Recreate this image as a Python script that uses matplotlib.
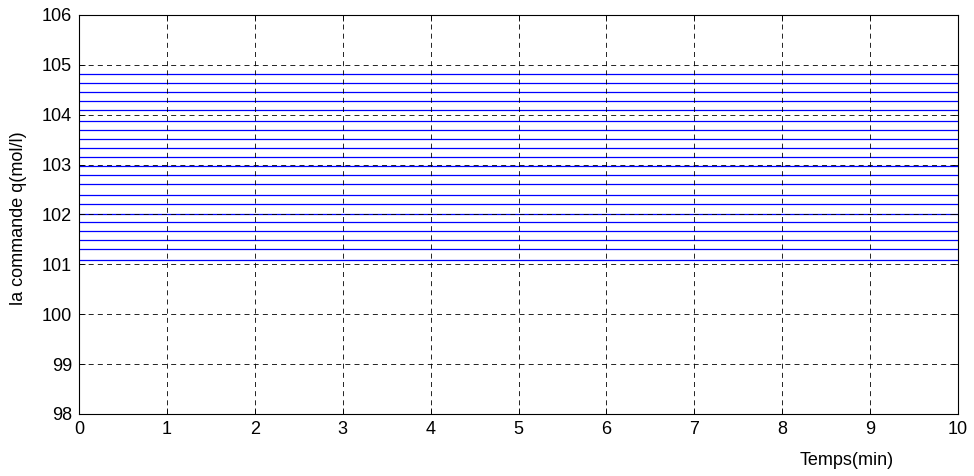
import matplotlib
matplotlib.use("Agg")
import matplotlib.pyplot as plt
import numpy as np

# time span (min) and the constant command levels
t_span = [0, 10]
q_levels = [104.82, 104.63, 104.45, 104.27, 104.09, 103.87, 103.69, 103.51,
            103.33, 103.15, 102.97, 102.79, 102.61, 102.39, 102.21, 102.01,
            101.85, 101.67, 101.49, 101.31, 101.09]

x_ticks = list(range(0, 11))
y_ticks = list(range(98, 107))

plt.rcParams['font.family'] = ['Liberation Sans', 'DejaVu Sans']
plt.rcParams['font.size'] = 13

fig = plt.figure(figsize=(9.74, 4.76), dpi=100)
ax = fig.add_axes([0.0811, 0.1303, 0.9025, 0.8382])

for q in q_levels:
    ax.plot(t_span, [q, q], color=(0, 0, 1), linewidth=0.9)

ax.set_xlim(0, 10)
ax.set_ylim(98, 106)
ax.set_xticks(x_ticks)
ax.set_yticks(y_ticks)

ax.grid(True, color='black', linestyle=(0, (6, 5)), linewidth=0.6)
ax.set_axisbelow(False)

ax.tick_params(direction='in', length=4, width=0.6, top=True, right=True,
               labelsize=13, pad=5)
for sp in ax.spines.values():
    sp.set_linewidth(0.8)

ax.set_xlabel('Temps(min)', fontsize=13)
ax.xaxis.set_label_coords(0.873, -0.095)
ax.set_ylabel('la commande q(mol/l)', fontsize=13)
ax.yaxis.set_label_coords(-0.059, 0.49)

fig.savefig('out.png', dpi=100)
